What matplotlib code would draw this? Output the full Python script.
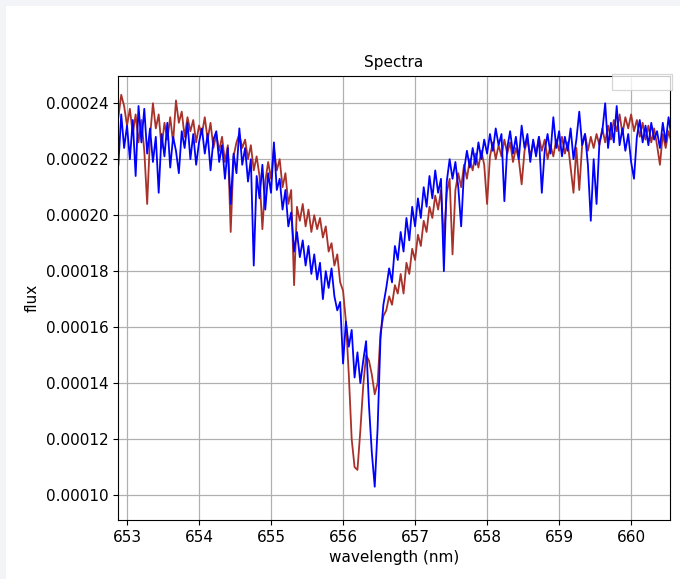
import numpy as np
import matplotlib
matplotlib.use("Agg")
import matplotlib.pyplot as plt
from matplotlib.patches import Rectangle
from matplotlib.ticker import FormatStrFormatter, MultipleLocator

# wavelength grid of both spectra (nm)
wl_start = 652.88
wl_step = 0.04

# flux in units of 1e-5
flux_ref = [
    23.5, 24.3, 23.9, 23.2, 23.8, 22.9, 23.6, 22.6, 23.4, 22.3,
    20.4, 22.8, 24.0, 23.1, 23.6, 22.4, 23.3, 22.7, 23.5, 22.6,
    24.1, 23.3, 23.7, 22.8, 23.5, 23.0, 23.4, 22.6, 23.2, 22.9,
    23.5, 22.7, 23.3, 22.4, 22.9, 22.3, 22.8, 21.9, 22.5, 19.4,
    22.1, 22.6, 22.9, 22.4, 22.7, 22.0, 22.5, 21.6, 22.1, 21.4,
    19.5, 21.2, 21.9, 21.3, 22.4, 21.6, 22.0, 21.0, 21.5, 20.4,
    20.9, 17.5, 20.3, 19.8, 20.4, 19.6, 20.2, 19.4, 20.0, 19.5,
    19.9, 19.2, 19.6, 18.7, 19.0, 18.2, 18.6, 17.6, 17.3, 16.2,
    14.3, 12.0, 11.0, 10.9, 12.3, 13.9, 15.0, 14.8, 14.3, 13.6,
    14.0, 15.8, 16.4, 16.6, 17.1, 16.8, 17.5, 17.2, 17.9, 17.2,
    18.3, 17.9, 18.8, 18.4, 19.3, 18.9, 19.8, 19.4, 20.3, 19.9,
    20.7, 20.2, 20.9, 19.1, 20.8, 21.3, 18.6, 20.9, 21.5, 21.0,
    21.8, 21.3, 22.0, 21.6, 22.2, 21.7, 22.3, 21.8, 20.4, 22.1,
    22.6, 22.0, 22.5, 22.1, 22.7, 22.2, 22.6, 21.9, 22.4, 22.0,
    21.1, 22.3, 22.7, 22.1, 22.6, 22.2, 22.8, 22.3, 22.7, 22.0,
    22.5, 22.1, 22.7, 22.3, 22.8, 22.2, 22.6, 21.7, 20.8, 22.4,
    20.9, 22.5, 22.9, 22.3, 22.8, 22.4, 22.9, 22.5, 23.1, 22.6,
    23.2, 22.7, 23.4, 23.0, 23.6, 22.9, 23.5, 23.1, 23.6, 23.0,
    23.4, 22.8, 23.3, 22.7, 23.2, 22.6, 23.1, 22.5, 21.8, 22.9,
    22.4, 23.0, 22.6,
]

flux_obs = [
    21.8, 23.6, 22.4, 23.2, 22.0, 23.4, 21.4, 23.9, 22.6, 23.8,
    22.2, 23.1, 21.9, 22.8, 20.8, 22.9, 22.1, 23.3, 21.7, 22.8,
    22.3, 21.5, 23.0, 22.4, 23.3, 22.0, 22.9, 21.8, 22.6, 23.1,
    22.2, 22.9, 21.6, 22.7, 23.0, 21.9, 22.5, 21.3, 22.4, 20.4,
    22.2, 21.5, 23.1, 21.8, 22.4, 21.2, 22.0, 18.2, 21.4, 20.6,
    21.8, 20.2, 21.5, 20.8, 22.6, 20.9, 21.3, 20.2, 20.9, 19.6,
    20.1, 18.7, 19.4, 18.5, 19.1, 18.2, 18.9, 17.9, 18.6, 17.7,
    18.3, 17.0, 18.0, 17.4, 18.1, 17.1, 16.6, 16.9, 14.7, 16.2,
    15.3, 15.9, 14.2, 15.1, 14.0, 14.8, 15.5, 13.2, 11.5, 10.3,
    12.4, 15.6, 16.8, 17.4, 18.1, 17.6, 18.9, 18.4, 19.4, 18.7,
    19.9, 19.1, 20.3, 19.6, 20.6, 19.9, 21.0, 20.3, 21.4, 20.6,
    21.6, 20.8, 21.3, 18.0, 21.2, 22.0, 21.3, 21.9, 21.0, 19.6,
    21.6, 22.3, 21.7, 22.4, 21.8, 22.6, 22.0, 22.7, 22.2, 22.9,
    22.3, 23.1, 22.5, 22.9, 20.5, 22.4, 23.0, 22.2, 22.8, 22.0,
    23.2, 22.4, 22.9, 21.9, 22.7, 22.1, 22.8, 20.8, 22.3, 22.9,
    22.2, 23.5, 22.4, 23.0, 22.1, 22.8, 22.3, 23.1, 22.0, 22.7,
    23.7, 22.5, 22.9, 21.8, 19.8, 22.0, 20.4, 22.6, 23.0, 24.0,
    22.4, 23.3, 22.6, 23.9, 22.5, 23.1, 22.3, 22.9, 21.9, 21.3,
    22.8, 23.4, 22.6, 23.2, 22.5, 23.3, 22.7, 23.0, 22.4, 23.3,
    22.6, 23.5, 22.8,
]

y_ticks = [0.00010, 0.00012, 0.00014, 0.00016, 0.00018, 0.00020, 0.00022, 0.00024]

wl_ref = wl_start + wl_step * np.arange(len(flux_ref))
wl_obs = wl_start + wl_step * np.arange(len(flux_obs))
f_ref = np.array(flux_ref) * 1e-5
f_obs = np.array(flux_obs) * 1e-5

plt.rcParams['font.family'] = 'DejaVu Sans'
plt.rcParams['font.size'] = 11

fig = plt.figure(figsize=(6.8, 5.79), dpi=100, facecolor='#f3f4f8')
# white page area inside the grey frame
fig.add_artist(Rectangle((6 / 680, 0), 1, 573 / 579, transform=fig.transFigure,
                         facecolor='white', edgecolor='none', zorder=0))

ax = fig.add_axes([118 / 680, 59 / 579, 552 / 680, 444.5 / 579])
ax.plot(wl_ref, f_ref, color='#a8322a', linewidth=1.3)
ax.plot(wl_obs, f_obs, color='blue', linewidth=1.3)

ax.set_xlim(652.875, 660.54)
ax.set_ylim(0.0000911, 0.0002499)
ax.xaxis.set_major_locator(MultipleLocator(1))
ax.set_yticks(y_ticks)
ax.yaxis.set_major_formatter(FormatStrFormatter('%.5f'))
ax.tick_params(labelsize=11)
ax.grid(True, color='#b0b0b0', linewidth=0.9)

ax.set_title("Spectra", fontsize=11)
ax.set_xlabel("wavelength (nm)", fontsize=11)
ax.set_ylabel("flux", fontsize=11)

# empty legend frame in the upper right corner
ax.add_patch(Rectangle((0.895, 0.9685), 0.109, 0.034, transform=ax.transAxes,
                       facecolor='white', alpha=0.8, edgecolor='0.8',
                       linewidth=0.9, zorder=5, clip_on=False))

fig.savefig("out.png", dpi=100, facecolor=fig.get_facecolor())
